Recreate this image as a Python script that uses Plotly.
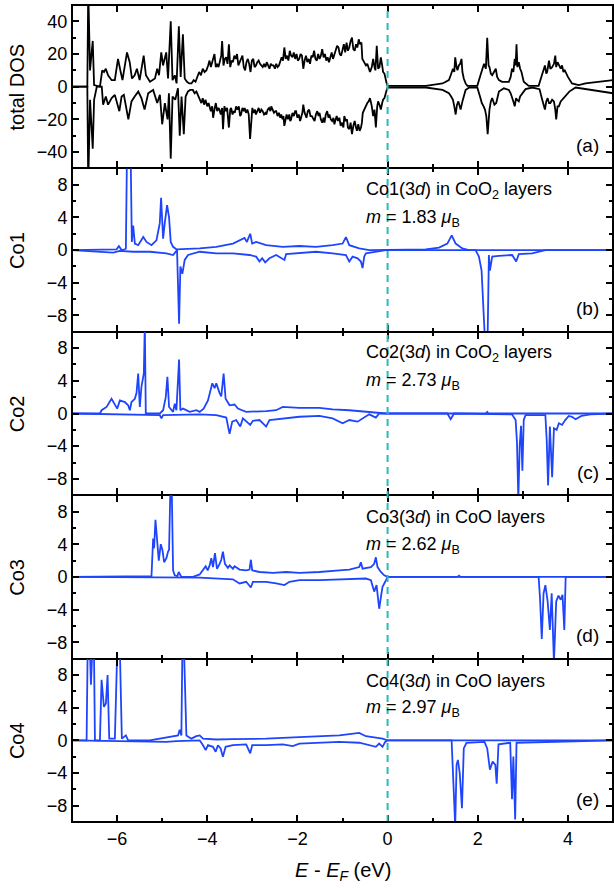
import plotly.graph_objects as go
from plotly.subplots import make_subplots

# ---------------- data (energies in eV, DOS in states/eV) ----------------
tot_up_E = [-7.0, -6.66, -6.64, -6.60, -6.54, -6.51, -6.38, -6.33, -6.29, -6.25, -6.20, -6.12, -6.05, -5.98, -5.92,
            -5.88, -5.78, -5.72, -5.67, -5.61, -5.56, -5.50, -5.41, -5.36, -5.27, -5.16, -5.11, -5.07, -5.02, -4.98,
            -4.91, -4.87, -4.81, -4.77, -4.72, -4.68, -4.63, -4.59, -4.54, -4.50,
            -4.45, -4.40, -4.35, -4.30, -4.26, -4.22, -4.18, -4.14, -4.10, -4.06, -4.02, -3.98, -3.95, -3.92, -3.89,
            -3.86, -3.84, -3.81, -3.78, -3.75, -3.72, -3.69, -3.67, -3.64, -3.61, -3.58, -3.55, -3.52, -3.49, -3.46,
            -3.43, -3.40, -3.37, -3.34, -3.31, -3.28, -3.25, -3.22, -3.19, -3.16, -3.13, -3.10, -3.07, -3.04, -3.01,
            -2.98, -2.95, -2.92, -2.89, -2.86, -2.83, -2.80, -2.77, -2.74, -2.71, -2.68, -2.65, -2.62, -2.59, -2.56,
            -2.53, -2.50, -2.47, -2.44, -2.41, -2.38, -2.35, -2.32, -2.29, -2.26, -2.23, -2.20, -2.17, -2.14, -2.11,
            -2.08, -2.05, -2.02, -1.99, -1.96, -1.93, -1.90, -1.87, -1.84, -1.81, -1.78, -1.75, -1.72, -1.69, -1.66,
            -1.63, -1.60, -1.57, -1.54, -1.51, -1.48, -1.45, -1.42, -1.39, -1.36, -1.33, -1.30, -1.27, -1.24, -1.21,
            -1.18, -1.15, -1.12, -1.09, -1.06, -1.03, -1.00, -0.97, -0.94, -0.91, -0.88, -0.85, -0.82, -0.79, -0.76,
            -0.73, -0.70, -0.67, -0.64, -0.61, -0.58, -0.56, -0.52, -0.48, -0.45, -0.42, -0.39, -0.35, -0.32, -0.29,
            -0.27, -0.24, -0.21, -0.18, -0.15, -0.12, -0.10, -0.07, -0.05, -0.02, 0.0,
            0.85, 1.22, 1.30, 1.36, 1.40, 1.45, 1.48, 1.50, 1.53, 1.55, 1.58, 1.61, 1.64, 1.66, 1.69, 1.73, 1.77,
            1.99, 2.06, 2.10, 2.14, 2.18, 2.21, 2.24, 2.26, 2.29, 2.32, 2.36, 2.40, 2.43, 2.47, 2.54, 2.69, 2.73,
            2.76, 2.79, 2.82, 2.84, 2.86, 2.88, 2.91, 2.94, 2.97, 3.02, 3.13, 3.35, 3.43, 3.46, 3.49, 3.52, 3.54,
            3.58, 3.61, 3.65, 3.69, 3.72, 3.74, 3.77, 3.80, 3.84, 3.87, 3.90, 3.93, 4.00, 4.09, 4.24, 4.39, 4.53,
            4.68, 5.0]
tot_up = [0, 0, 60, 10, 28, 1, 0, 10, 9, 11, 7, 4, 4, 17, 9,
          4, 21, 15, 5, 7, 11, 4, 19, 7, 3, 5, 11, 7, 21, 13,
          21, 5, 40, 4, 7, 2, 37, 6, 32, 5,
          3, 2, 2, 4, 3, 6, 9, 7, 11, 9, 10, 13, 16, 12, 15,
          19, 20, 12, 14, 12, 16, 19, 28, 13, 17, 18, 14, 26, 12, 16,
          15, 19, 17, 20, 13, 15, 18, 19, 12, 10, 15, 17, 14, 9, 16,
          17, 12, 13, 15, 16, 14, 13, 12, 14, 12, 15, 13, 11, 14, 13,
          13, 11, 14, 12, 13, 15, 18, 16, 24, 17, 19, 16, 22, 19, 18,
          21, 17, 20, 16, 17, 20, 19, 11, 16, 19, 15, 17, 14, 19, 18,
          22, 17, 16, 20, 17, 19, 23, 18, 20, 16, 18, 15, 19, 21, 17,
          20, 22, 25, 24, 20, 19, 22, 26, 21, 27, 22, 24, 28, 30, 23,
          22, 26, 24, 29, 26, 27, 17, 15, 13, 14, 11, 9, 12, 17, 12,
          10, 25, 11, 12, 18, 13, 9, 8, 5, 2, 0.5,
          0.5, 2, 3, 4, 7, 11, 9, 18, 12, 10, 13, 14, 17, 9, 5, 2, 0.5,
          0.5, 7, 10, 14, 11, 30, 13, 12, 8, 7, 9, 11, 6, 4, 3, 3, 6,
          11, 9, 17, 13, 26, 12, 15, 11, 9, 3, 0.5, 0.5, 7, 10, 13, 8, 9,
          16, 11, 12, 14, 19, 12, 15, 13, 11, 13, 9, 10, 6, 2, 1, 2, 2.5,
          3, 4]

tot_dn_E = [-7.0, -6.66, -6.64, -6.60, -6.54, -6.51, -6.45, -6.34, -6.31, -6.25, -6.20, -6.12, -6.05, -5.95, -5.90,
            -5.85, -5.75, -5.68, -5.61, -5.53, -5.46, -5.39, -5.31, -5.20, -5.11, -5.05, -5.00, -4.94, -4.88, -4.85,
            -4.81, -4.77, -4.71, -4.65, -4.61, -4.57, -4.52, -4.48,
            -4.43, -4.38, -4.32, -4.28, -4.24, -4.21, -4.17, -4.13, -4.10, -4.07, -4.04, -4.00, -3.97, -3.95, -3.92,
            -3.89, -3.87, -3.84, -3.81, -3.78, -3.75, -3.73, -3.70, -3.67, -3.65, -3.62, -3.59, -3.56, -3.52, -3.49,
            -3.47, -3.44, -3.41, -3.39, -3.36, -3.33, -3.30, -3.27, -3.25, -3.22, -3.19, -3.17, -3.14, -3.11, -3.08,
            -3.05, -3.02, -3.00, -2.97, -2.94, -2.92, -2.89, -2.86, -2.83, -2.80, -2.77, -2.74, -2.71, -2.69, -2.66,
            -2.63, -2.60, -2.58, -2.55, -2.52, -2.49, -2.47, -2.44, -2.41, -2.38, -2.36, -2.33, -2.31, -2.29, -2.26,
            -2.24, -2.21, -2.18, -2.16, -2.14, -2.11, -2.08, -2.05, -2.03, -2.00, -1.97, -1.94, -1.92, -1.89, -1.87,
            -1.84, -1.80, -1.77, -1.74, -1.71, -1.68, -1.65, -1.62, -1.59, -1.56, -1.53, -1.51, -1.48, -1.45, -1.42,
            -1.40, -1.37, -1.34, -1.31, -1.29, -1.26, -1.23, -1.20, -1.18, -1.15, -1.13, -1.10, -1.07, -1.04, -1.01,
            -0.98, -0.96, -0.93, -0.90, -0.88, -0.85, -0.82, -0.79, -0.76, -0.73, -0.70, -0.68, -0.65, -0.62, -0.59,
            -0.57, -0.55, -0.52, -0.48, -0.45, -0.42, -0.39, -0.35, -0.32, -0.29, -0.26, -0.23, -0.21, -0.18, -0.15,
            -0.12, -0.10, -0.07, -0.05, -0.02, 0.0,
            0.85, 1.22, 1.30, 1.36, 1.41, 1.45, 1.48, 1.51, 1.54, 1.57, 1.60, 1.62, 1.66, 1.73, 1.81,
            1.99, 2.05, 2.09, 2.13, 2.16, 2.19, 2.22, 2.26, 2.29, 2.32, 2.37, 2.41, 2.47, 2.58, 2.69, 2.73,
            2.76, 2.79, 2.82, 2.85, 2.87, 2.91, 2.94, 2.97, 3.06, 3.21, 3.37, 3.43, 3.46, 3.49, 3.52, 3.55,
            3.58, 3.61, 3.65, 3.69, 3.72, 3.74, 3.77, 3.80, 3.84, 3.87, 3.94, 4.03, 4.17, 4.39, 4.68, 5.0]
tot_dn = [0, 0, -60, -8, -38, -8, 0, 0, -11, -6, -11, -7, -5, -15, -6,
          -5, -20, -9, -6, -3, -7, -14, -4, -2, -10, -5, -23, -10, -20, -4,
          -44, -6, -8, -1, -30, -6, -29, -6,
          -3, -2, -2, -4, -3, -5, -8, -10, -7, -11, -8, -12, -10, -13, -15,
          -12, -19, -14, -10, -15, -13, -14, -17, -13, -26, -12, -15, -13, -25, -14,
          -13, -17, -15, -16, -12, -14, -12, -18, -17, -13, -15, -13, -16, -14, -17,
          -32, -15, -13, -16, -14, -17, -15, -13, -16, -14, -15, -17, -16, -17, -14,
          -13, -15, -12, -14, -16, -15, -15, -18, -16, -19, -17, -20, -18, -24, -18,
          -17, -20, -17, -21, -20, -16, -18, -15, -15, -19, -17, -21, -19, -16, -11,
          -16, -19, -15, -14, -18, -18, -20, -21, -17, -15, -18, -16, -20, -22, -19,
          -22, -17, -15, -19, -17, -20, -21, -19, -23, -20, -18, -21, -19, -24, -22,
          -25, -18, -21, -20, -25, -26, -22, -29, -24, -21, -25, -27, -23, -27, -25,
          -22, -16, -14, -12, -10, -9, -7, -12, -18, -14, -25, -12, -9, -11, -14,
          -10, -8, -7, -4, -2, -0.5,
          -0.5, -2, -3, -4, -6, -8, -12, -17, -11, -9, -12, -14, -9, -2, -0.5,
          -0.5, -6, -10, -12, -14, -18, -29, -14, -9, -7, -11, -10, -3, -1, -2, -4,
          -6, -9, -12, -7, -8, -9, -6, -5, -1.5, -0.5, -1.5, -8, -11, -14, -9, -7,
          -10, -10, -8, -9, -14, -20, -12, -12, -9, -8, -6, -3, -0.5, -1.5, -3, -4]

co1_up_E = [-7.0, -6.01, -5.96, -5.90, -5.83, -5.805, -5.78, -5.746, -5.70, -5.673, -5.643, -5.606, -5.53, -5.42,
            -5.348, -5.237, -5.127, -5.053, -5.024, -4.979, -4.943, -4.891, -4.847, -4.81, -4.758, -4.684, -4.168,
            -3.80, -3.43, -3.283, -3.173, -3.121, -3.047, -3.003, -2.915, -2.693, -2.325, -1.956, -1.587, -1.218,
            -0.997, -0.924, -0.85, -0.629, -0.407, 0.846, 1.141, 1.326, 1.422, 1.51, 1.657, 1.805, 5.0]
co1_up = [0, 0.1, 0.5, 0, 0.1, 0.2, 12, 11, 12, 1, 3, 0.8, 0.6, 1.6,
          1.0, 0.6, 1.2, 3.3, 6.4, 1.4, 3.3, 5.5, 4, 1.0, 0.4, 0.1, 0.2,
          0.4, 0.8, 1.2, 1.5, 1.0, 2.0, 0.8, 1.0, 0.6, 0.4, 0.5, 0.4, 0.6,
          0.8, 1.6, 0.6, 0.2, 0, 0.1, 0.3, 0.8, 1.8, 0.8, 0.2, 0, 0]

co1_dn_E = [-7.0, -6.16, -6.085, -5.94, -5.643, -5.274, -4.906, -4.758, -4.67, -4.625, -4.596, -4.552, -4.50,
            -4.426, -4.168, -3.80, -3.43, -3.062, -2.915, -2.841, -2.782, -2.715, -2.62, -2.472, -2.288, -2.251,
            -1.956, -1.587, -1.218, -0.924, -0.85, -0.776, -0.665, -0.592, -0.555, -0.518, -0.481, -0.26, -0.039,
            1.952, 2.026, 2.085, 2.122, 2.159, 2.218, 2.247, 2.27, 2.321, 2.469, 2.764, 2.852, 2.911, 3.206, 3.5, 5.0]
co1_dn = [0, -0.2, -0.3, -0.1, -0.2, -0.2, -0.4, -0.6, 0, -9, -2, -2.9, -1.2,
          -0.6, -0.2, -0.4, -0.4, -0.6, -0.8, -1.4, -1.0, -1.5, -1.0, -0.6, -1.2, -0.5,
          -0.4, -0.2, -0.4, -0.6, -1.4, -0.8, -1.0, -1.4, -2.2, -0.8, -0.4, -0.2, 0,
          0, -0.8, -2.5, -8.3, -11, -11, -0.6, -2.5, -0.8, -0.7, -0.6, -1.4, -0.5, -0.4, 0, 0]

co2_up_E = [-7.0, -6.38, -6.344, -6.233, -6.123, -6.049, -5.997, -5.938, -5.828, -5.754, -5.717, -5.68, -5.606,
            -5.569, -5.532, -5.496, -5.459, -5.407, -5.385, -5.363, -5.053, -4.979, -4.92, -4.884, -4.847, -4.758,
            -4.721, -4.684, -4.625, -4.596, -4.537, -4.39, -4.242, -4.168, -4.08, -3.984, -3.888, -3.836, -3.80,
            -3.726, -3.689, -3.637, -3.593, -3.505, -3.394, -3.32, -3.136, -2.693, -2.472, -2.325, -1.956, -1.513,
            -1.218, -0.85, -0.481, -0.039, 2.18, 2.21, 2.24, 5.0]
co2_up = [0, 0, 0.4, 0.8, 1.8, 1.0, 0.6, 1.6, 1.4, 1.0, 0.4, 1.4, 1.8,
          2.5, 4.9, 0.8, 3.3, 4.9, 11, 0, 0, 0.4, 2, 4.5, 0.8, 0.2,
          1.2, 0.4, 6.6, 0.4, 0.6, 0.2, 0.4, 0.2, 0.6, 1.6, 3.7, 3.1, 3.7,
          2.5, 2.1, 4.9, 1.8, 1.0, 1.1, 0.6, 0.2, 0.3, 0.4, 0.8, 0.7, 0.7,
          0.5, 0.4, 0.2, 0, 0, 0.2, 0, 0]

co2_dn_E = [-7.0, -5.053, -5.016, -4.979, -4.168, -3.80, -3.578, -3.505, -3.446, -3.357, -3.268, -3.21, -3.047,
            -2.988, -2.841, -2.693, -2.62, -2.325, -1.956, -1.513, -1.218, -0.997, -0.85, -0.665, -0.555, -0.407,
            -0.26, -0.186, 1.326, 1.40, 1.473, 2.76, 2.84, 2.87, 2.90, 2.93, 2.96, 2.99, 3.02, 3.06, 3.50, 3.53,
            3.56, 3.60, 3.65, 3.69, 3.75, 3.80, 3.87, 3.94, 4.02, 4.09, 4.17, 4.30, 4.50, 5.0]
co2_dn = [0, -0.2, -0.6, -0.2, -0.1, -0.2, -0.5, -2.5, -1.0, -0.8, -1.6, -0.6, -1.4,
          -0.9, -0.8, -1.6, -0.8, -0.6, -0.4, -0.3, -0.6, -1.2, -0.8, -1.0, -0.6, -0.1,
          -0.5, 0, 0, -0.7, 0, -0.1, -0.8, -3.5, -10.5, -4, -1.5, -7, -0.8, -0.2, -0.2, -3.3,
          -8.8, -1.6, -7.8, -1.8, -2, -1.2, -1.4, -0.8, -0.3, -0.4, -0.7, -0.3, -0.1, 0]

co3_up_E = [-7.0, -5.237, -5.20, -5.179, -5.149, -5.112, -5.075, -5.031, -4.994, -4.957, -4.906, -4.869, -4.847,
            -4.817, -4.788, -4.758, -4.721, -4.662, -4.633, -4.574, -4.316, -4.168, -4.08, -4.035, -3.991, -3.947,
            -3.91, -3.873, -3.829, -3.785, -3.726, -3.689, -3.652, -3.608, -3.541, -3.505, -3.431, -3.394, -3.283,
            -3.136, -3.062, -3.032, -3.003, -2.841, -2.546, -2.251, -1.956, -1.513, -1.071, -0.85, -0.629, -0.592,
            -0.555, -0.37, -0.297, -0.26, -0.223, -0.149, -0.075, 0.0, 1.55, 1.584, 1.62, 5.0]
co3_up = [0, 0.1, 4.7, 3.5, 7, 4.9, 2, 4.0, 3.3, 1.8, 2.3, 3.1, 3.3,
          11, 11, 0.8, 0.2, 0.1, 0.6, 0, 0, 0.3, 1.0, 1.3, 0.8, 1.4,
          2.3, 1.2, 2.9, 1.0, 1.6, 2.1, 3.1, 1.6, 1.1, 1.4, 1.0, 1.3, 0.9,
          0.8, 0.9, 2.1, 0.8, 0.6, 0.5, 0.6, 0.5, 0.6, 0.8, 0.9, 1.2, 1.8,
          1.0, 1.2, 1.6, 2.4, 1.2, 0.6, 0.2, 0, 0, 0.15, 0, 0]

co3_dn_E = [-7.0, -4.168, -3.431, -3.283, -3.136, -3.032, -2.988, -2.693, -2.472, -2.288, -2.177, -1.956, -1.513,
            -1.071, -0.481, -0.37, -0.297, -0.245, -0.186, -0.149, -0.112, -0.053, 0.0, 3.35, 3.38, 3.42, 3.46,
            3.50, 3.55, 3.60, 3.64, 3.69, 3.74, 3.79, 3.84, 3.88, 3.92, 3.95, 5.0]
co3_dn = [0, -0.1, -0.3, -0.8, -0.6, -1.3, -0.6, -0.6, -0.8, -1.0, -0.6, -0.4, -0.4,
          -0.3, -0.2, -0.4, -1.8, -1.0, -3.9, -2.5, -1.2, -0.6, 0, 0, -2.5, -7.6, -2,
          -1, -3, -6.5, -2, -10.5, -3, -2.3, -2.8, -2.2, -6.5, 0, 0]

co4_up_E = [-7.0, -6.676, -6.653, -6.602, -6.58, -6.55, -6.513, -6.491, -6.381, -6.344, -6.292, -6.248, -6.211,
            -6.174, -6.049, -5.997, -5.938, -5.894, -5.805, -5.754, -5.274, -4.648, -4.611, -4.574, -4.552, -4.515,
            -4.463, -4.353, -4.242, -4.168, -4.094, -3.80, -3.431, -2.693, -1.956, -1.513, -1.071, -0.629, -0.481,
            -0.112, 0.0, 5.0]
co4_up = [0, 0, 11, 11, 6.8, 11, 11, 0, 0, 7.4, 4.1, 4.5, 8.0,
          0.2, 0.2, 11, 11, 0.2, 0.6, 0, 0, 0.6, 1.3, 0.6, 11, 11,
          0.6, 0.2, 0.5, 0.6, 0.2, 0.1, 0.15, 0.2, 0.4, 0.5, 0.6, 0.9, 0.5,
          0.2, 0, 0]

co4_dn_E = [-7.0, -5.20, -4.906, -4.684, -4.168, -4.094, -4.035, -3.984, -3.873, -3.814, -3.763, -3.704, -3.652,
            -3.593, -3.431, -3.136, -3.047, -3.003, -2.693, -2.325, -2.103, -1.956, -1.513, -1.071, -0.629, -0.26,
            -0.186, -0.112, -0.053, 0.0, 1.42, 1.46, 1.50, 1.53, 1.56, 1.60, 1.65, 1.69, 1.75, 2.15, 2.21, 2.27,
            2.33, 2.39, 2.42, 2.46, 2.72, 2.76, 2.79, 2.83, 2.86, 5.0]
co4_dn = [0, -0.1, -0.2, -0.1, 0, -0.6, -1.2, -0.6, -0.8, -1.4, -0.6, -1.0, -2.0,
          -0.8, -0.6, -0.5, -1.6, -0.6, -0.6, -0.5, -0.7, -0.4, -0.3, -0.2, -0.3, -0.8,
          -0.4, -0.8, -0.2, 0, 0, -5.5, -10.5, -3, -2.4, -4, -8.3, -1, -0.3, -0.2, -1.0, -3.6,
          -2.6, -3, -5.3, -0.5, -0.3, -7.2, -2, -9.7, -0.3, 0]

panel_names = ["total DOS", "Co1", "Co2", "Co3", "Co4"]
panel_tags = ["(a)", "(b)", "(c)", "(d)", "(e)"]
site_titles = ["Co1(3<i>d</i>) in CoO<sub>2</sub> layers", "Co2(3<i>d</i>) in CoO<sub>2</sub> layers",
               "Co3(3<i>d</i>) in CoO layers", "Co4(3<i>d</i>) in CoO layers"]
moments = ["1.83", "2.73", "2.62", "2.97"]
x_ticks = [-6, -4, -2, 0, 2, 4]

# ---------------- figure ----------------
FONT = "Arial, Liberation Sans, sans-serif"
BLUE = "#1f45fc"
fig = make_subplots(rows=5, cols=1, shared_xaxes=True, vertical_spacing=0)

fig.add_trace(go.Scatter(x=tot_up_E, y=tot_up, mode="lines", line=dict(color="black", width=1.8)), 1, 1)
fig.add_trace(go.Scatter(x=tot_dn_E, y=tot_dn, mode="lines", line=dict(color="black", width=1.8)), 1, 1)
pdos = [(co1_up_E, co1_up, co1_dn_E, co1_dn), (co2_up_E, co2_up, co2_dn_E, co2_dn),
        (co3_up_E, co3_up, co3_dn_E, co3_dn), (co4_up_E, co4_up, co4_dn_E, co4_dn)]
for i, (ue, uv, de, dv) in enumerate(pdos):
    fig.add_trace(go.Scatter(x=ue, y=uv, mode="lines", line=dict(color=BLUE, width=1.8)), i + 2, 1)
    fig.add_trace(go.Scatter(x=de, y=dv, mode="lines", line=dict(color=BLUE, width=1.8)), i + 2, 1)

axis_common = dict(showline=True, linecolor="black", linewidth=1, mirror="allticks", ticks="inside",
                   tickcolor="black", tickwidth=1.5, showgrid=False, zeroline=False,
                   tickfont=dict(family=FONT, size=18, color="black"))
for r in range(1, 6):
    fig.update_xaxes(range=[-7, 5], tickvals=x_ticks, ticklen=7,
                     minor=dict(ticks="inside", dtick=1, tick0=0, ticklen=4, tickcolor="black", tickwidth=1.5),
                     showticklabels=(r == 5), row=r, col=1, **axis_common)
fig.update_yaxes(range=[-50, 50], tickvals=[-40, -20, 0, 20, 40], ticklen=7,
                 minor=dict(ticks="inside", dtick=10, tick0=0, ticklen=4, tickcolor="black", tickwidth=1.5),
                 row=1, col=1, **axis_common)
for r in range(2, 6):
    fig.update_yaxes(range=[-10, 10], tickvals=[-8, -4, 0, 4, 8], ticklen=7,
                     minor=dict(ticks="inside", dtick=2, tick0=0, ticklen=4, tickcolor="black", tickwidth=1.5),
                     row=r, col=1, **axis_common)

# Fermi level and outer frame
fig.add_shape(type="line", xref="x", yref="paper", x0=0, x1=0, y0=0, y1=1,
              line=dict(color="#26bcbc", width=2, dash="7px,5px"), layer="above")
fig.add_shape(type="rect", xref="paper", yref="paper", x0=0, x1=1, y0=0, y1=1,
              line=dict(color="black", width=2), fillcolor="rgba(0,0,0,0)", layer="above")

ann = []
yrefs = ["y", "y2", "y3", "y4", "y5"]
for i, name in enumerate(panel_names):
    ann.append(dict(text=name, xref="paper", x=-0.102, yref=yrefs[i] + " domain", y=0.5,
                    textangle=-90, showarrow=False, xanchor="center", yanchor="middle",
                    font=dict(family=FONT, size=20, color="black")))
    ann.append(dict(text=panel_tags[i], xref="x", x=4.73, yref=yrefs[i] + " domain", y=0.14,
                    showarrow=False, xanchor="right", yanchor="middle",
                    font=dict(family=FONT, size=19, color="black")))
for i in range(4):
    ann.append(dict(text=site_titles[i], xref="x", x=-0.52, yref=yrefs[i + 1], y=7.3,
                    showarrow=False, xanchor="left", yanchor="middle",
                    font=dict(family=FONT, size=18, color="black")))
    ann.append(dict(text="<i>m</i> = " + moments[i] + " <i>μ</i><sub>B</sub>", xref="x", x=-0.52,
                    yref=yrefs[i + 1], y=3.9, showarrow=False, xanchor="left", yanchor="middle",
                    font=dict(family=FONT, size=18, color="black")))
ann.append(dict(text="<i>E</i> - <i>E</i><sub><i>F</i></sub> (eV)", xref="paper", x=0.501, yref="paper",
                y=-0.061, showarrow=False, xanchor="center", yanchor="middle",
                font=dict(family=FONT, size=20, color="black")))

fig.update_layout(width=614, height=888, margin=dict(l=72, r=1, t=5, b=66),
                  plot_bgcolor="white", paper_bgcolor="white", showlegend=False,
                  annotations=ann, font=dict(family=FONT, color="black"))

fig.write_html("out.html", config={"displayModeBar": False},
               post_script="document.body.style.margin='0';")
